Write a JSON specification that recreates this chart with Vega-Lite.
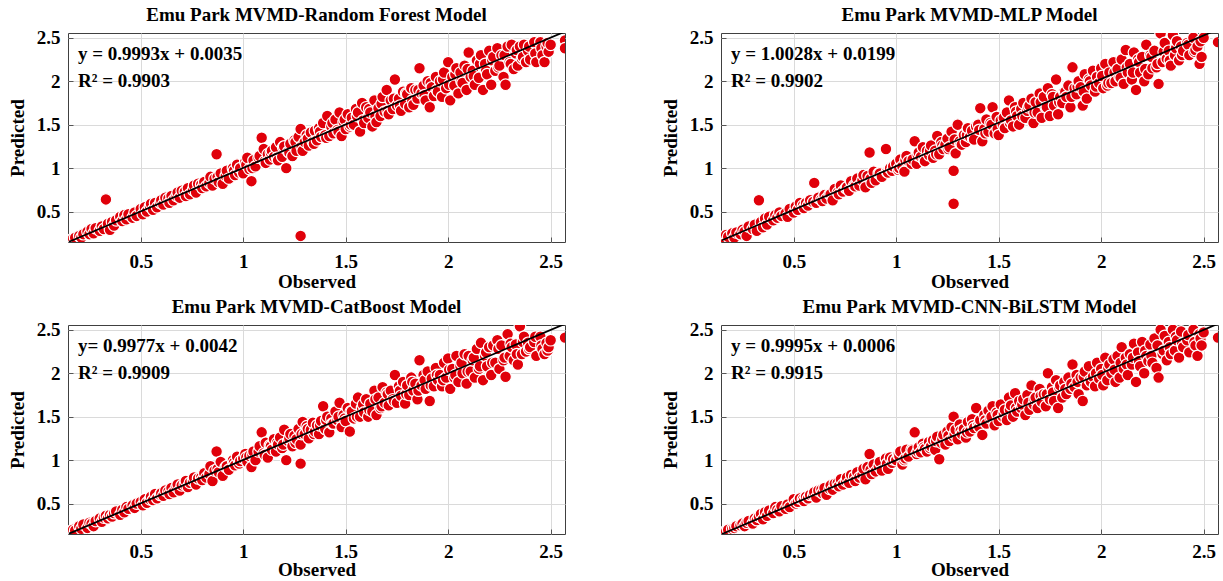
{
"$schema": "https://vega.github.io/schema/vega-lite/v6.json",
"padding": {"left": 7, "top": 5, "right": 0, "bottom": 0},
"background": "white",
"datasets": {
"obs": [
{"o":0.16,"rf":0.17,"mlp":0.18,"cat":0.17,"cnn":0.17},
{"o":0.17,"rf":0.19,"mlp":0.23,"cat":0.2,"cnn":0.18},
{"o":0.18,"rf":0.2,"mlp":0.21,"cat":0.19,"cnn":0.2},
{"o":0.2,"rf":0.22,"mlp":0.25,"cat":0.24,"cnn":0.21},
{"o":0.21,"rf":0.2,"mlp":0.2,"cat":0.21,"cnn":0.22},
{"o":0.22,"rf":0.24,"mlp":0.26,"cat":0.26,"cnn":0.24},
{"o":0.24,"rf":0.27,"mlp":0.24,"cat":0.22,"cnn":0.25},
{"o":0.25,"rf":0.24,"mlp":0.29,"cat":0.28,"cnn":0.27},
{"o":0.26,"rf":0.3,"mlp":0.27,"cat":0.27,"cnn":0.24},
{"o":0.27,"rf":0.25,"mlp":0.22,"cat":0.24,"cnn":0.28},
{"o":0.28,"rf":0.31,"mlp":0.33,"cat":0.3,"cnn":0.3},
{"o":0.3,"rf":0.28,"mlp":0.3,"cat":0.33,"cnn":0.27},
{"o":0.31,"rf":0.33,"mlp":0.35,"cat":0.29,"cnn":0.33},
{"o":0.32,"rf":0.3,"mlp":0.28,"cat":0.34,"cnn":0.31},
{"o":0.33,"rf":0.64,"mlp":0.63,"cat":0.36,"cnn":0.35},
{"o":0.34,"rf":0.36,"mlp":0.38,"cat":0.33,"cnn":0.38},
{"o":0.35,"rf":0.29,"mlp":0.32,"cat":0.37,"cnn":0.32},
{"o":0.36,"rf":0.38,"mlp":0.42,"cat":0.35,"cnn":0.4},
{"o":0.37,"rf":0.34,"mlp":0.35,"cat":0.39,"cnn":0.36},
{"o":0.38,"rf":0.4,"mlp":0.44,"cat":0.41,"cnn":0.42},
{"o":0.4,"rf":0.44,"mlp":0.4,"cat":0.37,"cnn":0.39},
{"o":0.41,"rf":0.39,"mlp":0.46,"cat":0.43,"cnn":0.46},
{"o":0.42,"rf":0.46,"mlp":0.43,"cat":0.4,"cnn":0.43},
{"o":0.43,"rf":0.41,"mlp":0.49,"cat":0.46,"cnn":0.41},
{"o":0.44,"rf":0.47,"mlp":0.45,"cat":0.44,"cnn":0.47},
{"o":0.46,"rf":0.43,"mlp":0.48,"cat":0.48,"cnn":0.44},
{"o":0.47,"rf":0.49,"mlp":0.44,"cat":0.45,"cnn":0.49},
{"o":0.48,"rf":0.45,"mlp":0.53,"cat":0.5,"cnn":0.46},
{"o":0.5,"rf":0.53,"mlp":0.49,"cat":0.52,"cnn":0.55},
{"o":0.51,"rf":0.47,"mlp":0.56,"cat":0.48,"cnn":0.5},
{"o":0.52,"rf":0.55,"mlp":0.52,"cat":0.55,"cnn":0.52},
{"o":0.53,"rf":0.5,"mlp":0.6,"cat":0.51,"cnn":0.56},
{"o":0.545,"rf":0.56,"mlp":0.57,"cat":0.55,"cnn":0.55},
{"o":0.55,"rf":0.59,"mlp":0.54,"cat":0.58,"cnn":0.53},
{"o":0.56,"rf":0.52,"mlp":0.6,"cat":0.54,"cnn":0.58},
{"o":0.57,"rf":0.6,"mlp":0.57,"cat":0.61,"cnn":0.56},
{"o":0.58,"rf":0.55,"mlp":0.63,"cat":0.56,"cnn":0.6},
{"o":0.595,"rf":0.6,"mlp":0.61,"cat":0.6,"cnn":0.6},
{"o":0.6,"rf":0.63,"mlp":0.83,"cat":0.62,"cnn":0.63},
{"o":0.61,"rf":0.58,"mlp":0.6,"cat":0.59,"cnn":0.57},
{"o":0.62,"rf":0.66,"mlp":0.66,"cat":0.65,"cnn":0.65},
{"o":0.635,"rf":0.65,"mlp":0.64,"cat":0.64,"cnn":0.66},
{"o":0.64,"rf":0.6,"mlp":0.62,"cat":0.61,"cnn":0.62},
{"o":0.65,"rf":0.68,"mlp":0.69,"cat":0.68,"cnn":0.68},
{"o":0.66,"rf":0.63,"mlp":0.65,"cat":0.63,"cnn":0.6},
{"o":0.675,"rf":0.68,"mlp":0.7,"cat":0.69,"cnn":0.67},
{"o":0.68,"rf":0.72,"mlp":0.7,"cat":0.72,"cnn":0.71},
{"o":0.69,"rf":0.66,"mlp":0.63,"cat":0.65,"cnn":0.66},
{"o":0.7,"rf":0.74,"mlp":0.76,"cat":0.71,"cnn":0.73},
{"o":0.715,"rf":0.73,"mlp":0.72,"cat":0.72,"cnn":0.74},
{"o":0.72,"rf":0.68,"mlp":0.7,"cat":0.76,"cnn":0.7},
{"o":0.73,"rf":0.77,"mlp":0.8,"cat":0.69,"cnn":0.78},
{"o":0.74,"rf":0.7,"mlp":0.73,"cat":0.74,"cnn":0.72},
{"o":0.755,"rf":0.75,"mlp":0.77,"cat":0.76,"cnn":0.76},
{"o":0.76,"rf":0.8,"mlp":0.78,"cat":0.8,"cnn":0.8},
{"o":0.77,"rf":0.72,"mlp":0.74,"cat":0.72,"cnn":0.74},
{"o":0.78,"rf":0.82,"mlp":0.85,"cat":0.79,"cnn":0.83},
{"o":0.795,"rf":0.81,"mlp":0.8,"cat":0.8,"cnn":0.81},
{"o":0.8,"rf":0.77,"mlp":0.79,"cat":0.77,"cnn":0.76},
{"o":0.81,"rf":0.84,"mlp":0.88,"cat":0.85,"cnn":0.86},
{"o":0.82,"rf":0.79,"mlp":0.8,"cat":0.8,"cnn":0.8},
{"o":0.835,"rf":0.83,"mlp":0.86,"cat":0.84,"cnn":0.83},
{"o":0.84,"rf":0.9,"mlp":0.92,"cat":0.93,"cnn":0.9},
{"o":0.85,"rf":0.8,"mlp":0.78,"cat":0.76,"cnn":0.78},
{"o":0.86,"rf":0.88,"mlp":0.91,"cat":0.88,"cnn":0.92},
{"o":0.87,"rf":1.16,"mlp":1.18,"cat":1.1,"cnn":1.07},
{"o":0.875,"rf":0.9,"mlp":0.88,"cat":0.9,"cnn":0.89},
{"o":0.88,"rf":0.84,"mlp":0.83,"cat":0.86,"cnn":0.84},
{"o":0.89,"rf":0.94,"mlp":0.96,"cat":0.98,"cnn":0.95},
{"o":0.9,"rf":0.82,"mlp":0.86,"cat":0.82,"cnn":0.87},
{"o":0.915,"rf":0.91,"mlp":0.94,"cat":0.92,"cnn":0.93},
{"o":0.92,"rf":0.97,"mlp":0.94,"cat":0.93,"cnn":0.98},
{"o":0.93,"rf":0.88,"mlp":0.9,"cat":0.89,"cnn":0.88},
{"o":0.95,"rf":1.0,"mlp":1.22,"cat":1.0,"cnn":1.02},
{"o":0.955,"rf":0.97,"mlp":0.96,"cat":0.97,"cnn":0.96},
{"o":0.96,"rf":0.92,"mlp":0.95,"cat":0.94,"cnn":0.9},
{"o":0.97,"rf":1.04,"mlp":1.0,"cat":1.04,"cnn":1.03},
{"o":0.98,"rf":0.95,"mlp":0.97,"cat":0.96,"cnn":0.97},
{"o":0.985,"rf":1.0,"mlp":1.02,"cat":0.99,"cnn":1.01},
{"o":1.0,"rf":0.94,"mlp":1.05,"cat":1.02,"cnn":1.0},
{"o":1.01,"rf":1.07,"mlp":0.98,"cat":1.07,"cnn":1.06},
{"o":1.015,"rf":1.04,"mlp":1.0,"cat":1.03,"cnn":1.05},
{"o":1.02,"rf":1.12,"mlp":1.1,"cat":0.98,"cnn":1.1},
{"o":1.03,"rf":0.99,"mlp":1.02,"cat":1.05,"cnn":0.95},
{"o":1.04,"rf":0.85,"mlp":0.96,"cat":0.92,"cnn":1.0},
{"o":1.045,"rf":1.0,"mlp":1.09,"cat":1.06,"cnn":1.02},
{"o":1.05,"rf":1.09,"mlp":1.14,"cat":1.1,"cnn":1.12},
{"o":1.06,"rf":1.02,"mlp":1.08,"cat":1.0,"cnn":1.04},
{"o":1.075,"rf":1.12,"mlp":1.05,"cat":1.1,"cnn":1.12},
{"o":1.08,"rf":1.14,"mlp":1.1,"cat":1.16,"cnn":1.11},
{"o":1.09,"rf":1.35,"mlp":1.31,"cat":1.32,"cnn":1.32},
{"o":1.1,"rf":1.22,"mlp":1.05,"cat":1.08,"cnn":1.07},
{"o":1.105,"rf":1.08,"mlp":1.15,"cat":1.06,"cnn":1.1},
{"o":1.11,"rf":1.06,"mlp":1.18,"cat":1.2,"cnn":1.15},
{"o":1.12,"rf":1.16,"mlp":1.13,"cat":1.03,"cnn":1.09},
{"o":1.13,"rf":1.1,"mlp":1.24,"cat":1.17,"cnn":1.19},
{"o":1.135,"rf":1.18,"mlp":1.1,"cat":1.16,"cnn":1.15},
{"o":1.14,"rf":1.2,"mlp":1.08,"cat":1.12,"cnn":1.13},
{"o":1.15,"rf":1.13,"mlp":1.2,"cat":1.24,"cnn":1.1},
{"o":1.16,"rf":1.24,"mlp":1.15,"cat":1.1,"cnn":1.21},
{"o":1.165,"rf":1.12,"mlp":1.2,"cat":1.2,"cnn":1.14},
{"o":1.17,"rf":1.09,"mlp":1.26,"cat":1.18,"cnn":1.16},
{"o":1.18,"rf":1.3,"mlp":1.12,"cat":1.26,"cnn":1.23},
{"o":1.19,"rf":1.13,"mlp":1.2,"cat":1.14,"cnn":1.12},
{"o":1.195,"rf":1.24,"mlp":1.16,"cat":1.18,"cnn":1.22},
{"o":1.2,"rf":1.25,"mlp":1.37,"cat":1.35,"cnn":1.27},
{"o":1.21,"rf":1.0,"mlp":1.16,"cat":1.0,"cnn":1.01},
{"o":1.22,"rf":1.19,"mlp":1.3,"cat":1.22,"cnn":1.2},
{"o":1.225,"rf":1.18,"mlp":1.26,"cat":1.25,"cnn":1.24},
{"o":1.23,"rf":1.28,"mlp":1.22,"cat":1.3,"cnn":1.29},
{"o":1.24,"rf":1.14,"mlp":1.27,"cat":1.16,"cnn":1.18},
{"o":1.25,"rf":1.32,"mlp":1.34,"cat":1.28,"cnn":1.33},
{"o":1.255,"rf":1.3,"mlp":1.22,"cat":1.2,"cnn":1.28},
{"o":1.26,"rf":1.2,"mlp":1.24,"cat":1.24,"cnn":1.22},
{"o":1.27,"rf":1.36,"mlp":1.42,"cat":1.36,"cnn":1.38},
{"o":1.28,"rf":0.22,"mlp":0.59,"cat":0.96,"cnn":1.5},
{"o":1.28,"rf":1.45,"mlp":0.97,"cat":1.18,"cnn":1.27},
{"o":1.285,"rf":1.25,"mlp":1.33,"cat":1.3,"cnn":1.3},
{"o":1.29,"rf":1.2,"mlp":1.17,"cat":1.44,"cnn":1.35},
{"o":1.3,"rf":1.3,"mlp":1.5,"cat":1.3,"cnn":1.24},
{"o":1.31,"rf":1.38,"mlp":1.31,"cat":1.39,"cnn":1.41},
{"o":1.315,"rf":1.34,"mlp":1.28,"cat":1.36,"cnn":1.34},
{"o":1.32,"rf":1.26,"mlp":1.27,"cat":1.25,"cnn":1.3},
{"o":1.33,"rf":1.41,"mlp":1.38,"cat":1.35,"cnn":1.36},
{"o":1.34,"rf":1.3,"mlp":1.3,"cat":1.43,"cnn":1.26},
{"o":1.345,"rf":1.28,"mlp":1.38,"cat":1.3,"cnn":1.32},
{"o":1.35,"rf":1.43,"mlp":1.46,"cat":1.33,"cnn":1.44},
{"o":1.36,"rf":1.32,"mlp":1.36,"cat":1.4,"cnn":1.33},
{"o":1.37,"rf":1.46,"mlp":1.43,"cat":1.3,"cnn":1.47},
{"o":1.375,"rf":1.42,"mlp":1.34,"cat":1.4,"cnn":1.4},
{"o":1.38,"rf":1.36,"mlp":1.33,"cat":1.45,"cnn":1.37},
{"o":1.39,"rf":1.52,"mlp":1.48,"cat":1.62,"cnn":1.6},
{"o":1.4,"rf":1.38,"mlp":1.5,"cat":1.36,"cnn":1.4},
{"o":1.405,"rf":1.35,"mlp":1.44,"cat":1.46,"cnn":1.38},
{"o":1.41,"rf":1.6,"mlp":1.69,"cat":1.5,"cnn":1.46},
{"o":1.42,"rf":1.37,"mlp":1.31,"cat":1.32,"cnn":1.29},
{"o":1.43,"rf":1.48,"mlp":1.45,"cat":1.48,"cnn":1.52},
{"o":1.435,"rf":1.52,"mlp":1.4,"cat":1.42,"cnn":1.46},
{"o":1.44,"rf":1.4,"mlp":1.56,"cat":1.42,"cnn":1.42},
{"o":1.45,"rf":1.56,"mlp":1.42,"cat":1.56,"cnn":1.57},
{"o":1.46,"rf":1.44,"mlp":1.52,"cat":1.46,"cnn":1.48},
{"o":1.465,"rf":1.42,"mlp":1.5,"cat":1.5,"cnn":1.5},
{"o":1.47,"rf":1.64,"mlp":1.7,"cat":1.66,"cnn":1.62},
{"o":1.48,"rf":1.37,"mlp":1.4,"cat":1.38,"cnn":1.4},
{"o":1.49,"rf":1.53,"mlp":1.59,"cat":1.52,"cnn":1.55},
{"o":1.495,"rf":1.56,"mlp":1.45,"cat":1.48,"cnn":1.52},
{"o":1.5,"rf":1.45,"mlp":1.38,"cat":1.45,"cnn":1.45},
{"o":1.51,"rf":1.62,"mlp":1.55,"cat":1.6,"cnn":1.64},
{"o":1.52,"rf":1.48,"mlp":1.5,"cat":1.33,"cnn":1.5},
{"o":1.525,"rf":1.5,"mlp":1.58,"cat":1.56,"cnn":1.54},
{"o":1.53,"rf":1.58,"mlp":1.46,"cat":1.56,"cnn":1.58},
{"o":1.54,"rf":1.5,"mlp":1.64,"cat":1.48,"cnn":1.46},
{"o":1.55,"rf":1.68,"mlp":1.78,"cat":1.65,"cnn":1.72},
{"o":1.555,"rf":1.6,"mlp":1.52,"cat":1.5,"cnn":1.58},
{"o":1.56,"rf":1.64,"mlp":1.55,"cat":1.72,"cnn":1.63},
{"o":1.57,"rf":1.42,"mlp":1.48,"cat":1.5,"cnn":1.5},
{"o":1.58,"rf":1.75,"mlp":1.7,"cat":1.6,"cnn":1.77},
{"o":1.585,"rf":1.55,"mlp":1.65,"cat":1.64,"cnn":1.6},
{"o":1.59,"rf":1.52,"mlp":1.6,"cat":1.55,"cnn":1.56},
{"o":1.6,"rf":1.7,"mlp":1.5,"cat":1.7,"cnn":1.68},
{"o":1.61,"rf":1.58,"mlp":1.68,"cat":1.5,"cnn":1.6},
{"o":1.615,"rf":1.68,"mlp":1.6,"cat":1.58,"cnn":1.64},
{"o":1.62,"rf":1.64,"mlp":1.75,"cat":1.65,"cnn":1.7},
{"o":1.63,"rf":1.48,"mlp":1.58,"cat":1.56,"cnn":1.52},
{"o":1.64,"rf":1.78,"mlp":1.66,"cat":1.8,"cnn":1.75},
{"o":1.645,"rf":1.6,"mlp":1.7,"cat":1.7,"cnn":1.66},
{"o":1.65,"rf":1.53,"mlp":1.72,"cat":1.52,"cnn":1.58},
{"o":1.66,"rf":1.69,"mlp":1.8,"cat":1.72,"cnn":1.86},
{"o":1.67,"rf":1.6,"mlp":1.52,"cat":1.6,"cnn":1.64},
{"o":1.675,"rf":1.74,"mlp":1.64,"cat":1.62,"cnn":1.7},
{"o":1.68,"rf":1.82,"mlp":1.76,"cat":1.84,"cnn":1.72},
{"o":1.69,"rf":1.65,"mlp":1.64,"cat":1.66,"cnn":1.6},
{"o":1.7,"rf":1.9,"mlp":1.86,"cat":1.78,"cnn":1.82},
{"o":1.705,"rf":1.66,"mlp":1.76,"cat":1.76,"cnn":1.74},
{"o":1.71,"rf":1.62,"mlp":1.58,"cat":1.63,"cnn":1.67},
{"o":1.72,"rf":1.78,"mlp":1.82,"cat":1.8,"cnn":1.76},
{"o":1.73,"rf":1.68,"mlp":1.7,"cat":1.7,"cnn":1.62},
{"o":1.735,"rf":1.8,"mlp":1.7,"cat":1.68,"cnn":1.76},
{"o":1.74,"rf":2.02,"mlp":1.92,"cat":1.98,"cnn":2.0},
{"o":1.75,"rf":1.72,"mlp":1.6,"cat":1.66,"cnn":1.7},
{"o":1.76,"rf":1.8,"mlp":1.85,"cat":1.85,"cnn":1.84},
{"o":1.765,"rf":1.72,"mlp":1.82,"cat":1.8,"cnn":1.78},
{"o":1.77,"rf":1.66,"mlp":1.72,"cat":1.74,"cnn":1.68},
{"o":1.78,"rf":1.88,"mlp":2.02,"cat":1.9,"cnn":1.92},
{"o":1.79,"rf":1.74,"mlp":1.62,"cat":1.65,"cnn":1.6},
{"o":1.795,"rf":1.86,"mlp":1.76,"cat":1.76,"cnn":1.84},
{"o":1.8,"rf":1.85,"mlp":1.82,"cat":1.86,"cnn":1.86},
{"o":1.81,"rf":1.7,"mlp":1.75,"cat":1.75,"cnn":1.72},
{"o":1.82,"rf":1.92,"mlp":1.88,"cat":1.95,"cnn":1.9},
{"o":1.825,"rf":1.78,"mlp":1.88,"cat":1.9,"cnn":1.82},
{"o":1.83,"rf":1.73,"mlp":1.82,"cat":1.8,"cnn":1.76},
{"o":1.84,"rf":1.9,"mlp":1.95,"cat":1.88,"cnn":1.95},
{"o":1.85,"rf":1.8,"mlp":1.7,"cat":1.7,"cnn":1.82},
{"o":1.855,"rf":1.9,"mlp":1.82,"cat":1.8,"cnn":1.88},
{"o":1.86,"rf":2.15,"mlp":2.16,"cat":2.15,"cnn":2.1},
{"o":1.87,"rf":1.86,"mlp":1.92,"cat":1.86,"cnn":1.84},
{"o":1.88,"rf":1.95,"mlp":1.85,"cat":1.98,"cnn":1.98},
{"o":1.885,"rf":1.84,"mlp":1.94,"cat":1.92,"cnn":1.9},
{"o":1.89,"rf":1.78,"mlp":2.0,"cat":1.82,"cnn":1.76},
{"o":1.9,"rf":2.0,"mlp":1.93,"cat":2.02,"cnn":1.95},
{"o":1.91,"rf":1.7,"mlp":1.72,"cat":1.68,"cnn":1.68},
{"o":1.915,"rf":1.98,"mlp":1.88,"cat":1.86,"cnn":1.96},
{"o":1.92,"rf":1.93,"mlp":2.08,"cat":1.94,"cnn":2.02},
{"o":1.93,"rf":1.83,"mlp":1.8,"cat":1.85,"cnn":1.86},
{"o":1.94,"rf":2.05,"mlp":2.02,"cat":2.06,"cnn":2.08},
{"o":1.945,"rf":1.9,"mlp":2.0,"cat":1.98,"cnn":1.92},
{"o":1.95,"rf":1.88,"mlp":1.95,"cat":1.92,"cnn":1.9},
{"o":1.96,"rf":2.0,"mlp":2.12,"cat":1.98,"cnn":1.96},
{"o":1.97,"rf":1.82,"mlp":1.88,"cat":1.85,"cnn":1.85},
{"o":1.975,"rf":2.02,"mlp":1.94,"cat":1.92,"cnn":2.0},
{"o":1.98,"rf":2.1,"mlp":2.05,"cat":2.12,"cnn":2.12},
{"o":1.99,"rf":1.92,"mlp":1.98,"cat":1.95,"cnn":1.94},
{"o":2.0,"rf":2.22,"mlp":2.15,"cat":2.17,"cnn":2.05},
{"o":2.005,"rf":1.96,"mlp":2.06,"cat":2.04,"cnn":1.98},
{"o":2.01,"rf":1.78,"mlp":1.92,"cat":1.82,"cnn":1.86},
{"o":2.02,"rf":2.05,"mlp":2.2,"cat":2.05,"cnn":2.18},
{"o":2.03,"rf":1.95,"mlp":1.95,"cat":1.95,"cnn":1.92},
{"o":2.035,"rf":2.08,"mlp":1.98,"cat":1.98,"cnn":2.06},
{"o":2.04,"rf":2.15,"mlp":2.1,"cat":2.2,"cnn":2.1},
{"o":2.05,"rf":1.86,"mlp":1.98,"cat":1.9,"cnn":2.0},
{"o":2.06,"rf":2.1,"mlp":2.22,"cat":2.08,"cnn":2.16},
{"o":2.065,"rf":2.0,"mlp":2.1,"cat":2.12,"cnn":2.04},
{"o":2.07,"rf":1.98,"mlp":2.0,"cat":2.0,"cnn":1.9},
{"o":2.08,"rf":2.18,"mlp":2.14,"cat":2.22,"cnn":2.2},
{"o":2.09,"rf":1.9,"mlp":2.05,"cat":1.88,"cnn":1.95},
{"o":2.095,"rf":2.14,"mlp":2.04,"cat":2.02,"cnn":2.12},
{"o":2.1,"rf":2.33,"mlp":2.25,"cat":2.2,"cnn":2.3},
{"o":2.11,"rf":2.05,"mlp":1.97,"cat":2.02,"cnn":2.05},
{"o":2.12,"rf":2.12,"mlp":2.36,"cat":2.15,"cnn":2.18},
{"o":2.125,"rf":2.06,"mlp":2.16,"cat":2.18,"cnn":2.1},
{"o":2.13,"rf":1.96,"mlp":2.1,"cat":1.95,"cnn":1.98},
{"o":2.14,"rf":2.24,"mlp":2.2,"cat":2.28,"cnn":2.22},
{"o":2.15,"rf":2.04,"mlp":2.02,"cat":2.05,"cnn":2.1},
{"o":2.155,"rf":2.2,"mlp":2.1,"cat":2.08,"cnn":2.18},
{"o":2.16,"rf":2.3,"mlp":2.33,"cat":2.35,"cnn":2.34},
{"o":2.17,"rf":1.9,"mlp":1.9,"cat":1.92,"cnn":1.9},
{"o":2.18,"rf":2.2,"mlp":2.25,"cat":2.2,"cnn":2.24},
{"o":2.185,"rf":2.12,"mlp":2.22,"cat":2.24,"cnn":2.14},
{"o":2.19,"rf":2.08,"mlp":2.1,"cat":2.08,"cnn":2.08},
{"o":2.2,"rf":2.35,"mlp":2.28,"cat":2.3,"cnn":2.36},
{"o":2.21,"rf":1.96,"mlp":2.0,"cat":1.98,"cnn":2.0},
{"o":2.215,"rf":2.24,"mlp":2.14,"cat":2.12,"cnn":2.26},
{"o":2.22,"rf":2.28,"mlp":2.42,"cat":2.32,"cnn":2.2},
{"o":2.23,"rf":2.12,"mlp":2.08,"cat":2.12,"cnn":2.14},
{"o":2.24,"rf":2.38,"mlp":2.3,"cat":2.38,"cnn":2.33},
{"o":2.245,"rf":2.16,"mlp":2.28,"cat":2.28,"cnn":2.2},
{"o":2.25,"rf":2.18,"mlp":2.15,"cat":2.05,"cnn":2.12},
{"o":2.26,"rf":2.3,"mlp":2.35,"cat":2.32,"cnn":2.4},
{"o":2.27,"rf":2.05,"mlp":2.16,"cat":2.15,"cnn":2.06},
{"o":2.275,"rf":2.3,"mlp":2.2,"cat":2.18,"cnn":2.32},
{"o":2.28,"rf":1.96,"mlp":1.97,"cat":1.96,"cnn":1.95},
{"o":2.29,"rf":2.4,"mlp":2.55,"cat":2.45,"cnn":2.5},
{"o":2.3,"rf":2.22,"mlp":2.22,"cat":2.2,"cnn":2.22},
{"o":2.305,"rf":2.2,"mlp":2.34,"cat":2.34,"cnn":2.26},
{"o":2.31,"rf":2.42,"mlp":2.44,"cat":2.3,"cnn":2.43},
{"o":2.32,"rf":2.14,"mlp":2.26,"cat":2.15,"cnn":2.15},
{"o":2.33,"rf":2.32,"mlp":2.35,"cat":2.33,"cnn":2.36},
{"o":2.335,"rf":2.36,"mlp":2.24,"cat":2.22,"cnn":2.3},
{"o":2.34,"rf":2.18,"mlp":2.18,"cat":2.1,"cnn":2.22},
{"o":2.35,"rf":2.4,"mlp":2.53,"cat":2.54,"cnn":2.5},
{"o":2.36,"rf":2.26,"mlp":2.3,"cat":2.22,"cnn":2.26},
{"o":2.365,"rf":2.28,"mlp":2.38,"cat":2.36,"cnn":2.42},
{"o":2.37,"rf":2.42,"mlp":2.46,"cat":2.42,"cnn":2.38},
{"o":2.38,"rf":2.22,"mlp":2.24,"cat":2.25,"cnn":2.18},
{"o":2.39,"rf":2.35,"mlp":2.4,"cat":2.35,"cnn":2.48},
{"o":2.395,"rf":2.4,"mlp":2.3,"cat":2.28,"cnn":2.34},
{"o":2.4,"rf":2.25,"mlp":2.35,"cat":2.3,"cnn":2.3},
{"o":2.42,"rf":2.45,"mlp":2.44,"cat":2.36,"cnn":2.38},
{"o":2.425,"rf":2.32,"mlp":2.42,"cat":2.42,"cnn":2.44},
{"o":2.43,"rf":2.22,"mlp":2.3,"cat":2.2,"cnn":2.24},
{"o":2.45,"rf":2.45,"mlp":2.5,"cat":2.42,"cnn":2.5},
{"o":2.455,"rf":2.38,"mlp":2.34,"cat":2.32,"cnn":2.36},
{"o":2.46,"rf":2.3,"mlp":2.36,"cat":2.28,"cnn":2.32},
{"o":2.47,"rf":2.22,"mlp":2.4,"cat":2.22,"cnn":2.2},
{"o":2.48,"rf":2.4,"mlp":2.2,"cat":2.35,"cnn":2.45},
{"o":2.485,"rf":2.44,"mlp":2.46,"cat":2.26,"cnn":2.4},
{"o":2.49,"rf":2.34,"mlp":2.28,"cat":2.3,"cnn":2.32},
{"o":2.5,"rf":2.42,"mlp":2.5,"cat":2.38,"cnn":2.47},
{"o":2.57,"rf":2.47,"mlp":2.45,"cat":2.41,"cnn":2.41},
{"o":2.57,"rf":2.38,"mlp":2.45,"cat":2.41,"cnn":2.41}
],
"fit": [
{"o":0.15,"rf":0.1534,"mlp":0.1703,"cat":0.1539,"cnn":0.1505},
{"o":2.57,"rf":2.5717,"mlp":2.5971,"cat":2.5683,"cnn":2.5693}
]
},
"spacing": 5,
"vconcat": [
{"spacing": 94, "hconcat": [
{"width": 497, "height": 209, "title": "Emu Park MVMD-Random Forest Model",
 "layer": [
  {"data": {"name": "obs"}, "mark": {"type": "circle", "size": 135, "color": "#e0000a", "opacity": 1, "stroke": "white", "strokeWidth": 1.2, "clip": true},
   "encoding": {"x": {"field": "o", "type": "quantitative", "scale": {"domain": [0.145, 2.57], "nice": false, "zero": false}, "axis": {"title": "Observed", "values": [0.5, 1, 1.5, 2, 2.5], "format": "~g"}},
                "y": {"field": "rf", "type": "quantitative", "scale": {"domain": [0.15, 2.555], "nice": false, "zero": false}, "axis": {"title": "Predicted", "values": [0.5, 1, 1.5, 2, 2.5], "format": "~g"}}}},
  {"data": {"name": "fit"}, "mark": {"type": "line", "color": "black", "strokeWidth": 1.8, "clip": true},
   "encoding": {"x": {"field": "o", "type": "quantitative"}, "y": {"field": "rf", "type": "quantitative"}}},
  {"data": {"values": [{"t": "y = 0.9993x + 0.0035"}]}, "mark": {"type": "text", "align": "left", "baseline": "middle"},
   "encoding": {"x": {"datum": 0.194}, "y": {"datum": 2.31}, "text": {"field": "t"}}},
  {"data": {"values": [{"t": "R² = 0.9903"}]}, "mark": {"type": "text", "align": "left", "baseline": "middle"},
   "encoding": {"x": {"datum": 0.194}, "y": {"datum": 2.0}, "text": {"field": "t"}}}
 ]},
{"width": 497, "height": 209, "title": "Emu Park MVMD-MLP Model",
 "layer": [
  {"data": {"name": "obs"}, "mark": {"type": "circle", "size": 135, "color": "#e0000a", "opacity": 1, "stroke": "white", "strokeWidth": 1.2, "clip": true},
   "encoding": {"x": {"field": "o", "type": "quantitative", "scale": {"domain": [0.145, 2.57], "nice": false, "zero": false}, "axis": {"title": "Observed", "values": [0.5, 1, 1.5, 2, 2.5], "format": "~g"}},
                "y": {"field": "mlp", "type": "quantitative", "scale": {"domain": [0.15, 2.555], "nice": false, "zero": false}, "axis": {"title": "Predicted", "values": [0.5, 1, 1.5, 2, 2.5], "format": "~g"}}}},
  {"data": {"name": "fit"}, "mark": {"type": "line", "color": "black", "strokeWidth": 1.8, "clip": true},
   "encoding": {"x": {"field": "o", "type": "quantitative"}, "y": {"field": "mlp", "type": "quantitative"}}},
  {"data": {"values": [{"t": "y = 1.0028x + 0.0199"}]}, "mark": {"type": "text", "align": "left", "baseline": "middle"},
   "encoding": {"x": {"datum": 0.194}, "y": {"datum": 2.31}, "text": {"field": "t"}}},
  {"data": {"values": [{"t": "R² = 0.9902"}]}, "mark": {"type": "text", "align": "left", "baseline": "middle"},
   "encoding": {"x": {"datum": 0.194}, "y": {"datum": 2.0}, "text": {"field": "t"}}}
 ]}
]},
{"spacing": 94, "hconcat": [
{"width": 497, "height": 209, "title": "Emu Park MVMD-CatBoost Model",
 "layer": [
  {"data": {"name": "obs"}, "mark": {"type": "circle", "size": 135, "color": "#e0000a", "opacity": 1, "stroke": "white", "strokeWidth": 1.2, "clip": true},
   "encoding": {"x": {"field": "o", "type": "quantitative", "scale": {"domain": [0.145, 2.57], "nice": false, "zero": false}, "axis": {"title": "Observed", "labelPadding": 13, "titlePadding": -1, "values": [0.5, 1, 1.5, 2, 2.5], "format": "~g"}},
                "y": {"field": "cat", "type": "quantitative", "scale": {"domain": [0.15, 2.555], "nice": false, "zero": false}, "axis": {"title": "Predicted", "values": [0.5, 1, 1.5, 2, 2.5], "format": "~g"}}}},
  {"data": {"name": "fit"}, "mark": {"type": "line", "color": "black", "strokeWidth": 1.8, "clip": true},
   "encoding": {"x": {"field": "o", "type": "quantitative"}, "y": {"field": "cat", "type": "quantitative"}}},
  {"data": {"values": [{"t": "y= 0.9977x + 0.0042"}]}, "mark": {"type": "text", "align": "left", "baseline": "middle"},
   "encoding": {"x": {"datum": 0.194}, "y": {"datum": 2.31}, "text": {"field": "t"}}},
  {"data": {"values": [{"t": "R² = 0.9909"}]}, "mark": {"type": "text", "align": "left", "baseline": "middle"},
   "encoding": {"x": {"datum": 0.194}, "y": {"datum": 2.0}, "text": {"field": "t"}}}
 ]},
{"width": 497, "height": 209, "title": "Emu Park MVMD-CNN-BiLSTM Model",
 "layer": [
  {"data": {"name": "obs"}, "mark": {"type": "circle", "size": 135, "color": "#e0000a", "opacity": 1, "stroke": "white", "strokeWidth": 1.2, "clip": true},
   "encoding": {"x": {"field": "o", "type": "quantitative", "scale": {"domain": [0.145, 2.57], "nice": false, "zero": false}, "axis": {"title": "Observed", "labelPadding": 13, "titlePadding": -1, "values": [0.5, 1, 1.5, 2, 2.5], "format": "~g"}},
                "y": {"field": "cnn", "type": "quantitative", "scale": {"domain": [0.15, 2.555], "nice": false, "zero": false}, "axis": {"title": "Predicted", "values": [0.5, 1, 1.5, 2, 2.5], "format": "~g"}}}},
  {"data": {"name": "fit"}, "mark": {"type": "line", "color": "black", "strokeWidth": 1.8, "clip": true},
   "encoding": {"x": {"field": "o", "type": "quantitative"}, "y": {"field": "cnn", "type": "quantitative"}}},
  {"data": {"values": [{"t": "y = 0.9995x + 0.0006"}]}, "mark": {"type": "text", "align": "left", "baseline": "middle"},
   "encoding": {"x": {"datum": 0.194}, "y": {"datum": 2.31}, "text": {"field": "t"}}},
  {"data": {"values": [{"t": "R² = 0.9915"}]}, "mark": {"type": "text", "align": "left", "baseline": "middle"},
   "encoding": {"x": {"datum": 0.194}, "y": {"datum": 2.0}, "text": {"field": "t"}}}
 ]}
]}
],
"config": {
 "font": "Liberation Serif",
 "view": {"stroke": "#404040", "strokeWidth": 1},
 "title": {"font": "Liberation Serif", "fontSize": 19, "fontWeight": "bold", "color": "black", "offset": 4, "frame": "group", "anchor": "middle"},
 "text": {"font": "Liberation Serif", "fontSize": 19, "fontWeight": "bold", "color": "black"},
 "axis": {"labelFont": "Liberation Serif", "labelFontSize": 19, "labelFontWeight": "bold", "labelColor": "black",
          "titleFont": "Liberation Serif", "titleFontSize": 19, "titleFontWeight": "bold", "titleColor": "black",
          "gridColor": "#dadada", "gridWidth": 1, "domain": false, "tickColor": "#555555", "tickSize": -5},
 "axisX": {"labelPadding": 15, "titlePadding": 1},
 "axisY": {"labelPadding": 13, "titlePadding": 9}
}
}
